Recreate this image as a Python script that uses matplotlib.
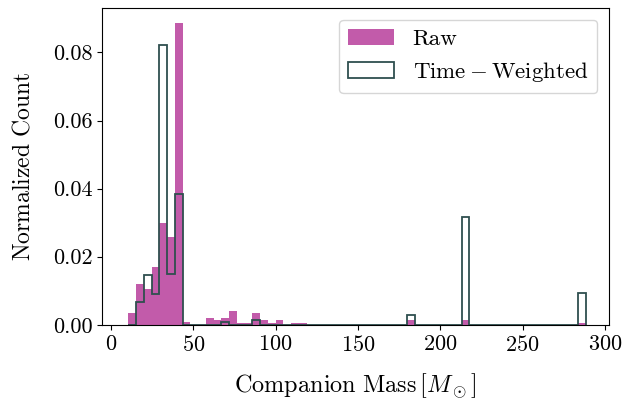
import numpy as np
import matplotlib.pyplot as plt
from matplotlib.patches import Patch

plt.rcParams['font.family'] = 'serif'
plt.rcParams['font.serif'] = ['cmr10']
plt.rcParams['mathtext.fontset'] = 'cm'
plt.rcParams['axes.formatter.use_mathtext'] = True

# bin edges (companion mass, M_sun) and normalised counts per bin
edges = np.linspace(10.6, 288.4, 60)

raw = np.zeros(59)
raw_bins = [0, 1, 2, 3, 4, 5, 6, 7,
            10, 11, 12, 13, 14, 15, 16, 17, 18, 19, 21, 22,
            36, 43, 58]
raw_vals = [0.0034, 0.0120, 0.0106, 0.0171, 0.0300, 0.0257, 0.0886, 0.0007,
            0.0021, 0.0015, 0.0020, 0.0041, 0.0006, 0.0006, 0.0035, 0.0015, 0.0006, 0.0015, 0.0006, 0.0006,
            0.0014, 0.0014, 0.0006]
raw[raw_bins] = raw_vals

weighted = np.zeros(59)
w_bins = [1, 2, 3, 4, 5, 6, 12, 16, 36, 43, 58]
w_vals = [0.0068, 0.0147, 0.0090, 0.0823, 0.0149, 0.0383, 0.0009, 0.0015, 0.0030, 0.0318, 0.0094]
weighted[w_bins] = w_vals

centers = 0.5 * (edges[:-1] + edges[1:])

raw_color = '#C25BAA'
w_color = '#2F4F4F'

fig = plt.figure(figsize=(6.23, 4.03), dpi=100)
ax = fig.add_axes([0.164, 0.194, 0.813, 0.786])

ax.hist(centers, bins=edges, weights=raw, color=raw_color, label='Raw')
ax.hist(centers, bins=edges, weights=weighted, histtype='step', color=w_color,
        linewidth=1.3, label=r'$\mathrm{Time-Weighted}$')

ax.set_xlim(-5.3, 302.3)
ax.set_xlabel(r'$\mathrm{Companion\ Mass}\,[M_\odot]$', fontsize=17.5, labelpad=12)
ax.set_ylabel(r'$\mathrm{Normalized\ Count}$', fontsize=17, labelpad=13)
ax.tick_params(labelsize=16)
ax.set_xticks([0, 50, 100, 150, 200, 250, 300])
ax.set_yticks([0, 0.02, 0.04, 0.06, 0.08])
ax.set_yticklabels(['0.00', '0.02', '0.04', '0.06', '0.08'])

# legend with filled patch and outlined patch
handles = [Patch(facecolor=raw_color, label='Raw'),
           Patch(facecolor='white', edgecolor=w_color, linewidth=1.3,
                 label=r'$\mathrm{Time-Weighted}$')]
ax.legend(handles=handles, loc='upper right', fontsize=16.5)

fig.savefig('out.png', dpi=100)
